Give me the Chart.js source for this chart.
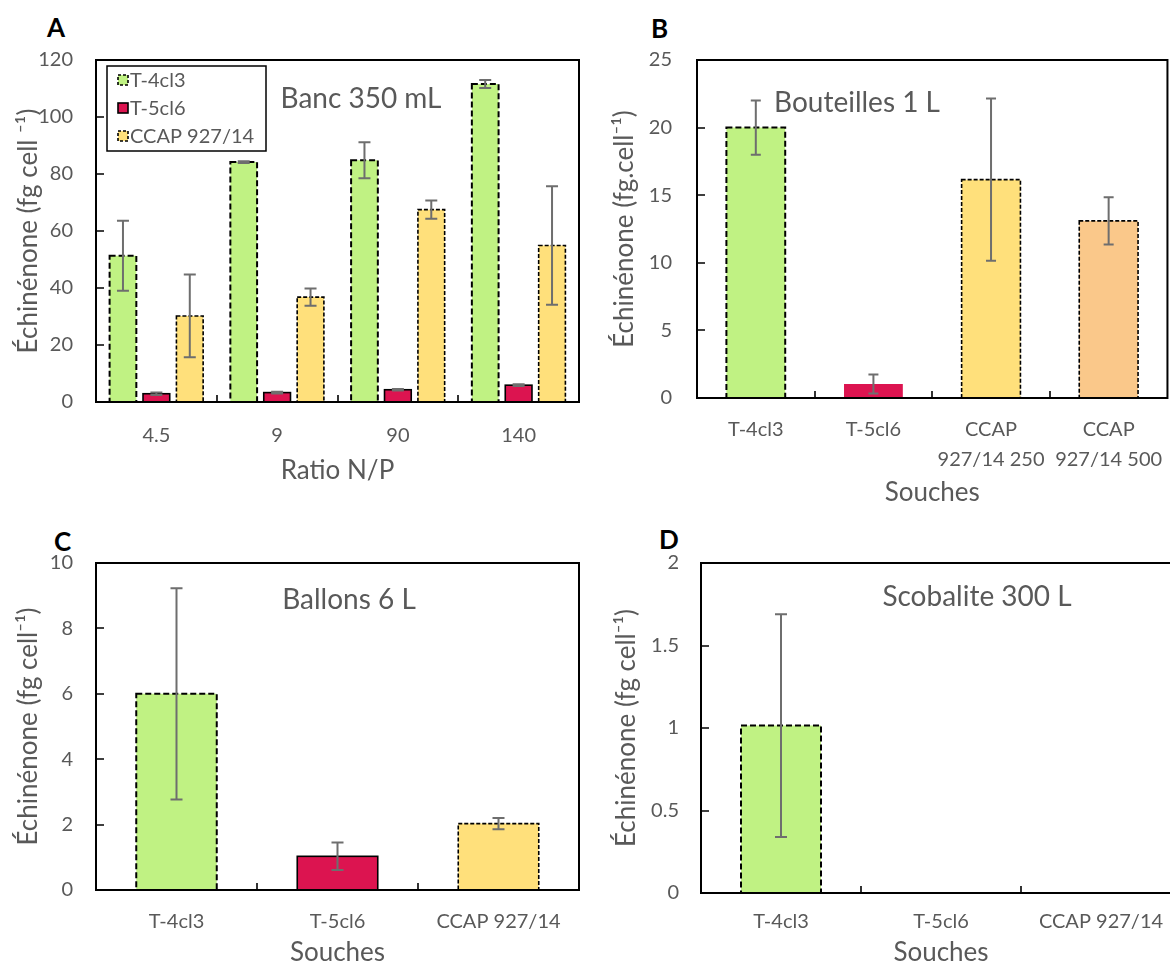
<!DOCTYPE html>
<html lang="fr">
<head>
<meta charset="utf-8">
<title>Échinénone</title>
<script src="https://cdn.jsdelivr.net/npm/chart.js@4.4.1/dist/chart.umd.min.js"></script>
<style>
  html, body { margin: 0; padding: 0; background: #fff; overflow: hidden; }
  body { width: 1170px; height: 966px; position: relative; }
  canvas { position: absolute; }
  .letter { position: absolute; font: bold 26px Lato, sans-serif; line-height: 1; color: #000; }
</style>
</head>
<body>
<div class="letter" style="left:47px;top:14px">A</div>
<div class="letter" style="left:651px;top:15px">B</div>
<div class="letter" style="left:54px;top:528px">C</div>
<div class="letter" style="left:659px;top:526px">D</div>

<canvas id="chartA" width="590" height="505" style="left:0;top:0"></canvas>
<canvas id="chartB" width="590" height="510" style="left:590px;top:0"></canvas>
<canvas id="chartC" width="590" height="446" style="left:0;top:520px"></canvas>
<canvas id="chartD" width="600" height="446" style="left:590px;top:520px"></canvas>

<script>
/* ── Data ─────────────────────────────────────── */
const RATIOS      = ['4.5', '9', '90', '140'];
const A_T4CL3     = [51.3, 84.2, 84.8, 111.6];
const A_T4CL3_ERR = [12.3, 0.3, 6.3, 1.4];
const A_T5CL6     = [2.9, 3.3, 4.3, 5.9];
const A_T5CL6_ERR = [0.4, 0.3, 0.3, 0.3];
const A_CCAP      = [30.2, 36.8, 67.5, 54.9];
const A_CCAP_ERR  = [14.5, 3.0, 3.2, 20.8];

const B_STRAINS = ['T-4cl3', 'T-5cl6', ['CCAP', '927/14 250'], ['CCAP', '927/14 500']];
const B_VALUES  = [20.0, 1.04, 16.15, 13.1];
const B_ERR     = [2.0, 0.7, 6.0, 1.75];

const STRAINS  = ['T-4cl3', 'T-5cl6', 'CCAP 927/14'];
const C_VALUES = [6.0, 1.03, 2.03];
const C_ERR    = [3.23, 0.42, 0.17];
const D_VALUES = [1.015, null, null];
const D_ERR    = [0.675, null, null];

/* ── Styles ───────────────────────────────────── */
const FONT     = 'Lato, sans-serif';
const C_TEXT   = '#595959';
const C_ERRBAR = '#6e6e6e';
const C_GREEN  = '#c0f283';
const C_RED    = '#dc1450';
const C_YELLOW = '#ffe07b';
const C_ORANGE = '#fac88a';
const DASH_LONG  = [6, 3];
const DASH_SHORT = [4, 2];
const SOLID      = [];

/* ── Plugins ──────────────────────────────────── */
// dashed / solid bar outlines + error bars, positioned from the bar elements and y scale
const barDecor = {
  id: 'barDecor',
  afterDatasetsDraw(chart, args, opts) {
    const { ctx, scales: { y } } = chart;
    chart.data.datasets.forEach((ds, di) => {
      chart.getDatasetMeta(di).data.forEach((bar, i) => {
        const v = ds.data[i];
        if (v == null) return;
        const { x, y: top, base, width } = bar.getProps(['x', 'y', 'base', 'width'], true);
        const dash = ds.outline ? ds.outline[i] : null;
        ctx.save();
        if (dash) {
          ctx.strokeStyle = '#000';
          ctx.lineWidth = dash === DASH_LONG ? 2 : 1.6;
          ctx.setLineDash(dash);
          ctx.strokeRect(x - width / 2, top, width, base - top);
        }
        const e = ds.err ? ds.err[i] : null;
        if (e) {
          const hi = y.getPixelForValue(v + e);
          const lo = y.getPixelForValue(Math.max(0, v - e));
          const c = opts.cap || 6;
          ctx.setLineDash([]);
          ctx.strokeStyle = C_ERRBAR;
          ctx.lineWidth = 2;
          ctx.beginPath();
          ctx.moveTo(x, hi); ctx.lineTo(x, lo);
          ctx.moveTo(x - c, hi); ctx.lineTo(x + c, hi);
          ctx.moveTo(x - c, lo); ctx.lineTo(x + c, lo);
          ctx.stroke();
        }
        ctx.restore();
      });
    });
  },
};

// plot frame + short inward tick marks (x: between categories, y: at each value)
const frame = {
  id: 'frame',
  afterDraw(chart) {
    const { ctx, chartArea: a, scales: { x, y } } = chart;
    ctx.save();
    ctx.strokeStyle = '#000';
    ctx.lineWidth = 2;
    ctx.strokeRect(a.left, a.top, a.right - a.left, a.bottom - a.top);
    ctx.lineWidth = 1.6;
    ctx.beginPath();
    for (let i = 1; i < x.ticks.length; i++) {
      const px = Math.round((x.getPixelForTick(i - 1) + x.getPixelForTick(i)) / 2);
      ctx.moveTo(px, a.bottom);
      ctx.lineTo(px, a.bottom - 7);
    }
    for (let i = 1; i < y.ticks.length - 1; i++) {
      const py = Math.round(y.getPixelForTick(i));
      ctx.moveTo(a.left, py);
      ctx.lineTo(a.left + 8, py);
    }
    ctx.stroke();
    ctx.restore();
  },
};

// text label inside the plot ("Banc 350 mL" ...)
const panelLabel = {
  id: 'panelLabel',
  afterDraw(chart, args, o) {
    if (!o.text) return;
    const { ctx } = chart;
    ctx.save();
    ctx.font = '28px ' + FONT;
    ctx.fillStyle = C_TEXT;
    ctx.textAlign = 'center';
    ctx.textBaseline = 'middle';
    ctx.fillText(o.text, o.x, o.y);
    ctx.restore();
  },
};

// boxed legend for panel A
const boxLegend = {
  id: 'boxLegend',
  afterDraw(chart, args, o) {
    if (!o.show) return;
    const { ctx } = chart;
    ctx.save();
    ctx.fillStyle = '#fff';
    ctx.fillRect(o.x, o.y, o.w, o.h);
    ctx.strokeStyle = '#000';
    ctx.lineWidth = 1.5;
    ctx.strokeRect(o.x, o.y, o.w, o.h);
    ctx.font = '20px ' + FONT;
    ctx.textBaseline = 'middle';
    chart.data.datasets.forEach((ds, i) => {
      const cy = o.y + o.first + i * o.step;
      ctx.fillStyle = ds.backgroundColor;
      ctx.fillRect(o.x + 11, cy - 5, 10, 10);
      ctx.lineWidth = 1.6;
      ctx.setLineDash(ds.outline[0] === SOLID ? [] : [3, 2]);
      ctx.strokeStyle = '#000';
      ctx.strokeRect(o.x + 11, cy - 5, 10, 10);
      ctx.setLineDash([]);
      ctx.fillStyle = C_TEXT;
      ctx.fillText(ds.label, o.x + 23, cy + 1);
    });
    ctx.restore();
  },
};

/* ── Shared options ───────────────────────────── */
function options(p) {
  return {
    responsive: false,
    animation: false,
    layout: { padding: p.pad },
    plugins: {
      legend: { display: false },
      tooltip: { enabled: false },
      barDecor: { cap: p.cap },
      panelLabel: p.label,
      boxLegend: p.legend || { show: false },
    },
    scales: {
      x: {
        grid: { display: false, drawTicks: false },
        border: { display: false },
        ticks: {
          color: C_TEXT, padding: p.xTickPad, maxRotation: 0, autoSkip: false,
          font: { family: FONT, size: 20, lineHeight: 1.5 },
        },
        title: {
          display: true, text: p.xTitle, color: C_TEXT, padding: p.xTitlePad,
          font: { family: FONT, size: 26, lineHeight: 1 },
        },
        afterFit: s => { s.height = p.xHeight; },
      },
      y: {
        min: 0, max: p.yMax,
        grid: { display: false, drawTicks: false },
        border: { display: false },
        ticks: {
          stepSize: p.yStep, color: C_TEXT, padding: p.yTickPad,
          font: { family: FONT, size: 20 },
          callback: v => String(v),
        },
        title: {
          display: true, text: p.yTitle, color: C_TEXT, padding: p.yTitlePad,
          font: { family: FONT, size: 26, lineHeight: 1 },
        },
        afterFit: s => { s.width = p.yWidth; },
      },
    },
  };
}

const PLUGINS = [barDecor, frame, panelLabel, boxLegend];
const fill = (n, v) => Array(n).fill(v);

/* ── A: Banc 350 mL ───────────────────────────── */
new Chart(document.getElementById('chartA'), {
  type: 'bar',
  data: {
    labels: RATIOS,
    datasets: [
      { label: 'T-4cl3', data: A_T4CL3, err: A_T4CL3_ERR, backgroundColor: C_GREEN, outline: fill(4, DASH_LONG) },
      { label: 'T-5cl6', data: A_T5CL6, err: A_T5CL6_ERR, backgroundColor: C_RED, outline: fill(4, SOLID) },
      { label: 'CCAP 927/14', data: A_CCAP, err: A_CCAP_ERR, backgroundColor: C_YELLOW, outline: fill(4, DASH_SHORT) },
    ].map(d => ({ ...d, borderWidth: 0, categoryPercentage: 0.83, barPercentage: 0.8 })),
  },
  options: options({
    pad: { top: 60, right: 11, left: 0, bottom: 0 },
    yMax: 120, yStep: 20, yWidth: 96, xHeight: 103,
    yTickPad: 23, xTickPad: 19, yTitlePad: 16, xTitlePad: 21, cap: 6,
    yTitle: 'Échinénone (fg cell ⁻¹)', xTitle: 'Ratio N/P',
    label: { text: 'Banc 350 mL', x: 361, y: 99 },
    legend: { show: true, x: 107, y: 66, w: 159, h: 85, first: 14, step: 28 },
  }),
  plugins: PLUGINS,
});

/* ── B: Bouteilles 1 L ────────────────────────── */
new Chart(document.getElementById('chartB'), {
  type: 'bar',
  data: {
    labels: B_STRAINS,
    datasets: [{
      data: B_VALUES, err: B_ERR, borderWidth: 0,
      backgroundColor: [C_GREEN, C_RED, C_YELLOW, C_ORANGE],
      outline: [DASH_LONG, null, DASH_SHORT, DASH_SHORT],
      categoryPercentage: 1, barPercentage: 0.5,
    }],
  },
  options: options({
    pad: { top: 60, right: 7, left: 0, bottom: 0 },
    yMax: 25, yStep: 5, yWidth: 107, xHeight: 112,
    yTickPad: 25, xTickPad: 17, yTitlePad: 22, xTitlePad: 4, cap: 5,
    yTitle: 'Échinénone (fg.cell⁻¹)', xTitle: 'Souches',
    label: { text: 'Bouteilles 1 L', x: 267, y: 103 },
  }),
  plugins: PLUGINS,
});

/* ── C: Ballons 6 L ───────────────────────────── */
new Chart(document.getElementById('chartC'), {
  type: 'bar',
  data: {
    labels: STRAINS,
    datasets: [{
      data: C_VALUES, err: C_ERR, borderWidth: 0,
      backgroundColor: [C_GREEN, C_RED, C_YELLOW],
      outline: [DASH_LONG, SOLID, DASH_SHORT],
      categoryPercentage: 1, barPercentage: 0.5,
    }],
  },
  options: options({
    pad: { top: 43, right: 11, left: 0, bottom: 0 },
    yMax: 10, yStep: 2, yWidth: 96, xHeight: 76,
    yTickPad: 23, xTickPad: 17, yTitlePad: 16, xTitlePad: 0, cap: 6,
    yTitle: 'Échinénone (fg cell⁻¹)', xTitle: 'Souches',
    label: { text: 'Ballons 6 L', x: 349, y: 80 },
  }),
  plugins: PLUGINS,
});

/* ── D: Scobalite 300 L ───────────────────────── */
new Chart(document.getElementById('chartD'), {
  type: 'bar',
  data: {
    labels: STRAINS,
    datasets: [{
      data: D_VALUES, err: D_ERR, borderWidth: 0,
      backgroundColor: [C_GREEN, C_RED, C_YELLOW],
      outline: [DASH_LONG, SOLID, DASH_SHORT],
      categoryPercentage: 1, barPercentage: 0.5,
    }],
  },
  options: options({
    pad: { top: 43, right: 9, left: 0, bottom: 0 },
    yMax: 2, yStep: 0.5, yWidth: 111, xHeight: 73,
    yTickPad: 22, xTickPad: 14, yTitlePad: 24, xTitlePad: 0, cap: 6,
    yTitle: 'Échinénone (fg cell⁻¹)', xTitle: 'Souches',
    label: { text: 'Scobalite 300 L', x: 387, y: 77 },
  }),
  plugins: PLUGINS,
});
</script>
</body>
</html>
